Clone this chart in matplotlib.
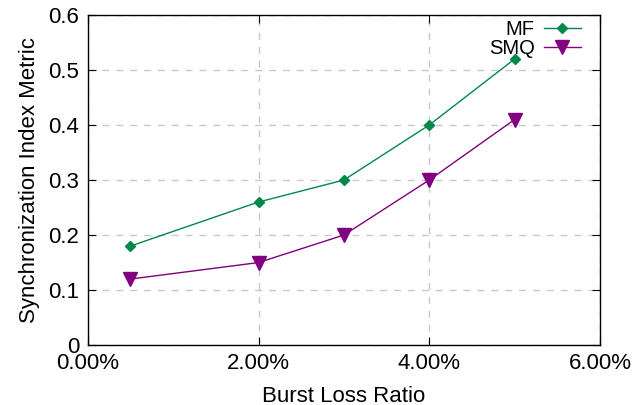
import matplotlib
matplotlib.use('Agg')
import matplotlib.pyplot as plt
from matplotlib.ticker import FuncFormatter

plt.rcParams['font.family'] = ['Liberation Sans', 'DejaVu Sans']

loss = [0.5, 2, 3, 4, 5]
mf = [0.18, 0.26, 0.30, 0.40, 0.52]
smq = [0.12, 0.15, 0.20, 0.30, 0.41]

fig = plt.figure(figsize=(6.41, 4.05), dpi=100)
ax = fig.add_axes([0.137, 0.148, 0.799, 0.815])

ax.plot(loss, mf, color='#00884a', linewidth=1, marker='D', markersize=5, label='MF')
ax.plot(loss, smq, color='#800080', linewidth=1, marker='v', markersize=10, label='SMQ')

ax.set_xlim(0, 6)
ax.set_ylim(0, 0.6)
ax.set_xticks([0, 2, 4, 6])
ax.set_yticks([0, 0.1, 0.2, 0.3, 0.4, 0.5, 0.6])
ax.xaxis.set_major_formatter(FuncFormatter(lambda v, p: '%.2f%%' % v))
ax.yaxis.set_major_formatter(FuncFormatter(lambda v, p: '0' if v == 0 else '%.1f' % v))
ax.tick_params(direction='in', length=6, labelsize=16, top=True, right=True, pad=6)
ax.grid(True, linestyle=(0, (5, 5)), color='#c8c8c8', linewidth=1)
for s in ax.spines.values():
    s.set_linewidth(1)

ax.set_xlabel('Burst Loss Ratio', fontsize=16, labelpad=8)
ax.set_ylabel('Synchronization Index Metric', fontsize=16, labelpad=6)

ax.legend(loc='upper right', bbox_to_anchor=(0.967, 0.99), markerfirst=False,
          frameon=False, fontsize=14.5, handlelength=1.85, handletextpad=0.45,
          borderaxespad=0, labelspacing=0.0, borderpad=0.1)

fig.savefig('out.png', dpi=100)
